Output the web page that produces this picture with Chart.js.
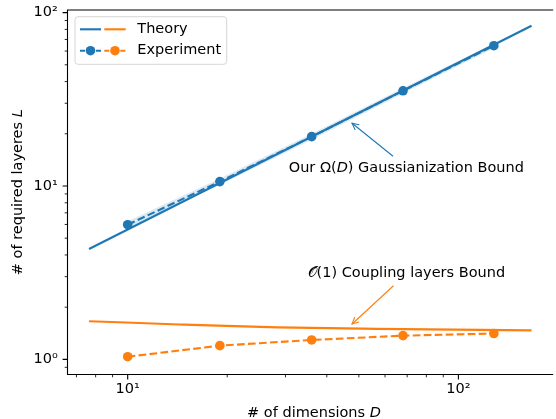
<!DOCTYPE html>
<html><head><meta charset="utf-8">
<script src="https://cdn.jsdelivr.net/npm/chart.js@4/dist/chart.umd.min.js"></script>
<style>html,body{margin:0;padding:0;background:#fff;overflow:hidden}#wrap{width:556px;height:419px;position:relative}</style>
</head><body><div id="wrap"><canvas id="c"></canvas></div>
<script>
// ---- data ----
const dims = [10, 19, 36, 68, 128];
const expGauss = [5.98, 10.6, 19.25, 35.4, 64.4];
const expGaussLow = [5.72, 10.15, 18.5, 34.1, 62.4];
const expGaussHigh = [6.25, 11.05, 20.0, 36.7, 66.4];
const expCoupling = [1.036, 1.20, 1.294, 1.37, 1.41];
const theoryGaussDims = [7.64, 166.4];
const theoryGauss = [4.33, 84.0];
const theoryCouplingDims = [7.64, 14.3, 28.4, 56.8, 166.4];
const theoryCoupling = [1.66, 1.59, 1.53, 1.50, 1.47];
const xMajorTicks = [10, 100];
const yMajorTicks = [1, 10, 100];
const xMinorTicks = [7, 8, 9, 20, 30, 40, 50, 60, 70, 80, 90];
const yMinorTicks = [0.9, 2, 3, 4, 5, 6, 7, 8, 9, 20, 30, 40, 50, 60, 70, 80, 90];
const tickLabels = {1: '10\u2070', 10: '10\u00b9', 100: '10\u00b2'};

const BLUE = '#1f77b4', ORANGE = '#ff7f0e';
const FS = 14.5;
const FAM = '"DejaVu Sans", sans-serif';
const DASH = [7.7, 3.3];
const toXY = (xs, ys) => xs.map((x, i) => ({x: x, y: ys[i]}));

function drawParts(ctx, parts, x, y, align) {
  let total = 0;
  parts.forEach(p => { ctx.font = (p[1] ? 'italic ' : '') + FS + 'px ' + FAM; p.w = ctx.measureText(p[0]).width; total += p.w; });
  let cx = align === 'center' ? x - total / 2 : x;
  ctx.textAlign = 'left';
  parts.forEach(p => { ctx.font = (p[1] ? 'italic ' : '') + FS + 'px ' + FAM; ctx.fillText(p[0], cx, y); cx += p.w; });
}
function arrow(ctx, x1, y1, x2, y2, color) {
  ctx.save();
  ctx.strokeStyle = color; ctx.lineWidth = 1.1; ctx.lineCap = 'round';
  ctx.beginPath(); ctx.moveTo(x1, y1); ctx.lineTo(x2, y2); ctx.stroke();
  const a = Math.atan2(y1 - y2, x1 - x2), L = 7, w = 0.46;
  ctx.beginPath();
  ctx.moveTo(x2 + L * Math.cos(a + w), y2 + L * Math.sin(a + w));
  ctx.lineTo(x2, y2);
  ctx.lineTo(x2 + L * Math.cos(a - w), y2 + L * Math.sin(a - w));
  ctx.stroke();
  ctx.restore();
}

const decor = {
  id: 'decor',
  afterDraw(chart) {
    const ctx = chart.ctx, a = chart.chartArea, sx = chart.scales.x, sy = chart.scales.y;
    ctx.save();
    // spines
    ctx.strokeStyle = '#000'; ctx.lineWidth = 1.1;
    ctx.beginPath();
    ctx.moveTo(a.right + 2, a.top); ctx.lineTo(a.left, a.top); ctx.lineTo(a.left, a.bottom); ctx.lineTo(a.right + 2, a.bottom);
    ctx.stroke();
    // ticks
    const tick = (vals, len, w, isX) => {
      ctx.lineWidth = w; ctx.beginPath();
      vals.forEach(v => {
        if (isX) { const p = sx.getPixelForValue(v); if (p < a.left || p > a.right) return; ctx.moveTo(p, a.bottom); ctx.lineTo(p, a.bottom + len); }
        else { const p = sy.getPixelForValue(v); if (p < a.top || p > a.bottom) return; ctx.moveTo(a.left, p); ctx.lineTo(a.left - len, p); }
      });
      ctx.stroke();
    };
    tick(xMajorTicks, 4.9, 1.1, true); tick(xMinorTicks, 2.8, 0.85, true);
    tick(yMajorTicks, 4.9, 1.1, false); tick(yMinorTicks, 2.8, 0.85, false);

    // axis titles
    ctx.fillStyle = '#000'; ctx.textBaseline = 'alphabetic';
    drawParts(ctx, [['# of dimensions ', false], ['D', true]], 314, 416.5, 'center');
    ctx.save();
    ctx.translate(21.5, (a.top + a.bottom) / 2); ctx.rotate(-Math.PI / 2);
    drawParts(ctx, [['# of required layeres ', false], ['L', true]], 0, 0, 'center');
    ctx.restore();

    // annotations
    const ax = sx.getPixelForValue(69.6);
    drawParts(ctx, [['Our \u03a9(', false], ['D', true], [') Gaussianization Bound', false]], ax, sy.getPixelForValue(12.09), 'center');
    drawParts(ctx, [['\ud835\udcaa(1) Coupling layers Bound', false]], ax, sy.getPixelForValue(3.0), 'center');
    arrow(ctx, sx.getPixelForValue(63.3), sy.getPixelForValue(14.9), sx.getPixelForValue(47.7), sy.getPixelForValue(23.0), BLUE);
    arrow(ctx, sx.getPixelForValue(63.5), sy.getPixelForValue(2.65), sx.getPixelForValue(47.7), sy.getPixelForValue(1.60), ORANGE);

    // legend
    const bx = 75, by = 16.7, bw = 151.7, bh = 47.6, r = 3;
    ctx.beginPath();
    ctx.moveTo(bx + r, by); ctx.lineTo(bx + bw - r, by); ctx.arcTo(bx + bw, by, bx + bw, by + r, r);
    ctx.lineTo(bx + bw, by + bh - r); ctx.arcTo(bx + bw, by + bh, bx + bw - r, by + bh, r);
    ctx.lineTo(bx + r, by + bh); ctx.arcTo(bx, by + bh, bx, by + bh - r, r);
    ctx.lineTo(bx, by + r); ctx.arcTo(bx, by, bx + r, by, r); ctx.closePath();
    ctx.fillStyle = 'rgba(255,255,255,0.8)'; ctx.fill();
    ctx.strokeStyle = '#d6d6d6'; ctx.lineWidth = 1; ctx.stroke();
    const seg = (x1, x2, y, c, dash) => { ctx.strokeStyle = c; ctx.lineWidth = 2.1; ctx.setLineDash(dash || []); ctx.beginPath(); ctx.moveTo(x1, y); ctx.lineTo(x2, y); ctx.stroke(); ctx.setLineDash([]); };
    const dot = (x, y, c) => { ctx.fillStyle = c; ctx.beginPath(); ctx.arc(x, y, 4.8, 0, Math.PI * 2); ctx.fill(); };
    seg(80, 101, 29.3, BLUE); seg(104.3, 125.7, 29.3, ORANGE);
    seg(80, 101, 50.7, BLUE, [5, 3]); seg(104.3, 125.7, 50.7, ORANGE, [5, 3]);
    dot(90.5, 50.7, BLUE); dot(115, 50.7, ORANGE);
    ctx.fillStyle = '#000'; ctx.textBaseline = 'middle';
    ctx.font = FS + 'px ' + FAM; ctx.textAlign = 'left';
    ctx.fillText('Theory', 137.3, 29.3);
    ctx.fillText('Experiment', 137.3, 50.7);
    ctx.restore();
  }
};

const tickFont = {family: 'DejaVu Sans', size: FS};
new Chart(document.getElementById('c'), {
  type: 'line',
  data: {
    datasets: [
      {label: 'band low', data: toXY(dims, expGaussLow), borderWidth: 0, borderColor: 'rgba(0,0,0,0)', pointRadius: 0, fill: false, order: 6},
      {label: 'band high', data: toXY(dims, expGaussHigh), borderWidth: 0, borderColor: 'rgba(0,0,0,0)', pointRadius: 0, fill: '-1', backgroundColor: 'rgba(31,119,180,0.16)', order: 5},
      {label: 'Theory (Gaussianization)', data: toXY(theoryGaussDims, theoryGauss), borderColor: BLUE, borderWidth: 2.1, pointRadius: 0, fill: false, order: 4},
      {label: 'Theory (Coupling)', data: toXY(theoryCouplingDims, theoryCoupling), borderColor: ORANGE, borderWidth: 2.1, pointRadius: 0, fill: false, cubicInterpolationMode: 'monotone', order: 3},
      {label: 'Experiment (Gaussianization)', data: toXY(dims, expGauss), borderColor: BLUE, borderWidth: 2.1, borderDash: DASH, pointRadius: 4.8, pointBackgroundColor: BLUE, pointBorderWidth: 0, fill: false, order: 2},
      {label: 'Experiment (Coupling)', data: toXY(dims, expCoupling), borderColor: ORANGE, borderWidth: 2.1, borderDash: DASH, pointRadius: 4.8, pointBackgroundColor: ORANGE, pointBorderWidth: 0, fill: false, order: 1}
    ]
  },
  options: {
    responsive: true, maintainAspectRatio: false, animation: false, events: [],
    layout: {padding: {top: 10, left: 0, right: 0, bottom: 0}},
    plugins: {legend: {display: false}, tooltip: {enabled: false}},
    scales: {
      x: {
        type: 'logarithmic', min: 6.577, max: 190.8,
        grid: {display: false, drawTicks: false}, border: {display: false},
        ticks: {autoSkip: false, maxRotation: 0, padding: 6.5, color: '#000', font: tickFont, callback: v => tickLabels[v] || ''},
        afterBuildTicks: s => { s.ticks = xMajorTicks.map(v => ({value: v})); },
        afterFit: s => { s.height = 44.5; s.paddingLeft = 0; s.paddingRight = 0; }
      },
      y: {
        type: 'logarithmic', min: 0.818, max: 103.5,
        grid: {display: false, drawTicks: false}, border: {display: false},
        ticks: {autoSkip: false, padding: 9.8, color: '#000', font: tickFont, callback: v => tickLabels[v] || ''},
        afterBuildTicks: s => { s.ticks = yMajorTicks.map(v => ({value: v})); },
        afterFit: s => { s.width = 67.5; s.paddingTop = 0; s.paddingBottom = 0; }
      }
    }
  },
  plugins: [decor]
});
</script>
</body></html>
